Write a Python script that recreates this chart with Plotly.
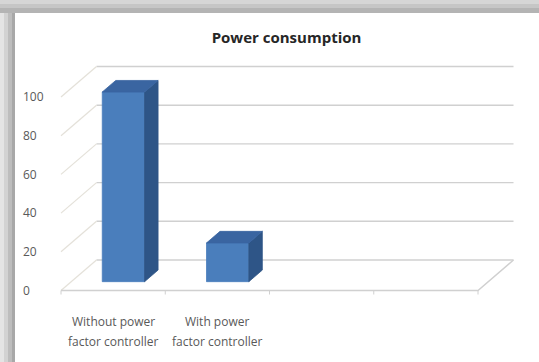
import plotly.graph_objects as go

# ---- data ----
cat_line1 = ["Without power", "With power"]
cat_line2 = ["factor controller", "factor controller"]
values = [98, 20]
n_slots = 4                      # category slots on the floor (two are empty)
y_ticks = [0, 20, 40, 60, 80, 100]
title_text = "Power consumption"

# ---- page / projection geometry (pixels) ----
W, H = 539, 362
PX_CAT = 104.25                  # pixels per category slot on the front plane
PX_VAL = 1.935                   # pixels per value unit
FRONT_LEFT_PX = 61               # x pixel of the front-left floor corner
FLOOR_PX = 290.5                 # y pixel of the front floor edge
DEPTH_DX_PX, DEPTH_DY_PX = 35.5, 30.5   # oblique offset from front to back wall

M_L, M_R, M_T, M_B = 20, 0, 40, 55
plot_w = W - M_L - M_R
plot_h = H - M_T - M_B

x_lo = -(FRONT_LEFT_PX - M_L) / PX_CAT
x_hi = x_lo + plot_w / PX_CAT
y_lo = -((H - M_B) - FLOOR_PX) / PX_VAL
y_hi = y_lo + plot_h / PX_VAL

DX = DEPTH_DX_PX / PX_CAT
DY = DEPTH_DY_PX / PX_VAL


def proj(x, v, d):
    """Oblique projection of (category x, value v, depth d in 0..1)."""
    return x + d * DX, v + d * DY


def poly(points):
    xs, ys = zip(*[proj(*p) for p in points])
    return list(xs) + [xs[0]], list(ys) + [ys[0]]


fig = go.Figure()

GRID_BACK = "#d0d0d0"
GRID_SIDE = "#e4e1d9"

# back wall gridlines
for v in y_ticks:
    (xa, ya), (xb, yb) = proj(0, v, 1), proj(n_slots, v, 1)
    fig.add_trace(go.Scatter(x=[xa, xb], y=[ya, yb], mode="lines",
                             line=dict(color=GRID_BACK, width=1.4),
                             hoverinfo="skip", showlegend=False))

# left side wall gridlines
for v in y_ticks:
    (xa, ya), (xb, yb) = proj(0, v, 0), proj(0, v, 1)
    fig.add_trace(go.Scatter(x=[xa, xb], y=[ya, yb], mode="lines",
                             line=dict(color=GRID_SIDE, width=1.2),
                             hoverinfo="skip", showlegend=False))

# floor: front edge and right edge
fx, fy = zip(proj(0, 0, 0), proj(n_slots, 0, 0), proj(n_slots, 0, 1))
fig.add_trace(go.Scatter(x=list(fx), y=list(fy), mode="lines",
                         line=dict(color=GRID_BACK, width=1.4),
                         hoverinfo="skip", showlegend=False))

# small tick marks under the front floor edge
tick_len = 4 / PX_VAL
for i in range(n_slots + 1):
    (xa, ya) = proj(i, 0, 0)
    fig.add_trace(go.Scatter(x=[xa, xa], y=[ya, ya - tick_len], mode="lines",
                             line=dict(color=GRID_BACK, width=1),
                             hoverinfo="skip", showlegend=False))

# 3-D looking columns
FRONT, SIDE, TOP = "#4a7ebc", "#2e5587", "#3a65a1"
half_w = 0.203
d0, d1 = 0.29, 0.67
for i, v in enumerate(values):
    xc = i + 0.5
    xl, xr = xc - half_w, xc + half_w
    faces = [
        ([(xl, 0, d0), (xr, 0, d0), (xr, v, d0), (xl, v, d0)], FRONT),
        ([(xr, 0, d0), (xr, 0, d1), (xr, v, d1), (xr, v, d0)], SIDE),
        ([(xl, v, d0), (xr, v, d0), (xr, v, d1), (xl, v, d1)], TOP),
    ]
    for pts, col in faces:
        px_, py_ = poly(pts)
        fig.add_trace(go.Scatter(x=px_, y=py_, mode="lines", fill="toself",
                                 fillcolor=col, line=dict(color=col, width=0.8),
                                 hoverinfo="skip", showlegend=False))

# category labels, centred on each slot of the front edge
LABEL_FONT = dict(family="Open Sans", size=12, color="#595959")
for i, (l1, l2) in enumerate(zip(cat_line1, cat_line2)):
    fig.add_annotation(x=i + 0.5, y=0, xref="x", yref="y", text=l1,
                       showarrow=False, yshift=-31, font=LABEL_FONT)
    fig.add_annotation(x=i + 0.5, y=0, xref="x", yref="y", text=l2,
                       showarrow=False, yshift=-51, font=LABEL_FONT)

# frame: grey shadow band on the top and left of the white chart panel
def px_to_paper(px, py):
    return (px - M_L) / plot_w, ((H - M_B) - py) / plot_h

bands_left = [(0, 4, "#e4e4e4"), (4, 8, "#d2d2d2"), (8, 12, "#bdbdbd"), (12, 15, "#a8a8a8")]
for a, b, col in bands_left:
    x0, y0 = px_to_paper(a, H)
    x1, y1 = px_to_paper(b, 0)
    fig.add_shape(type="rect", xref="paper", yref="paper", x0=x0, x1=x1, y0=y0, y1=y1,
                  fillcolor=col, line_width=0, layer="below")
bands_top = [(0, 4, "#d6d6d6"), (4, 8, "#c6c6c6"), (8, 13, "#b4b4b4")]
for a, b, col in bands_top:
    x0, y0 = px_to_paper(0, b)
    x1, y1 = px_to_paper(W, a)
    fig.add_shape(type="rect", xref="paper", yref="paper", x0=x0, x1=x1, y0=y0, y1=y1,
                  fillcolor=col, line_width=0, layer="below")

fig.update_layout(
    width=W, height=H,
    margin=dict(l=M_L, r=M_R, t=M_T, b=M_B),
    paper_bgcolor="white", plot_bgcolor="rgba(0,0,0,0)",
    showlegend=False,
    title=dict(text=f"<b>{title_text}</b>", x=286.5 / W, y=1 - 38 / H,
               xanchor="center", yanchor="middle",
               font=dict(family="Open Sans", size=15, color="#262626")),
    xaxis=dict(range=[x_lo, x_hi], visible=False, fixedrange=True),
    yaxis=dict(range=[y_lo, y_hi], tickvals=y_ticks, ticktext=[str(t) for t in y_ticks],
               ticklabelposition="inside", ticks="", showgrid=False, zeroline=False,
               showline=False, fixedrange=True,
               tickfont=dict(family="Open Sans", size=12, color="#595959")),
)

fig.write_html("out.html")
